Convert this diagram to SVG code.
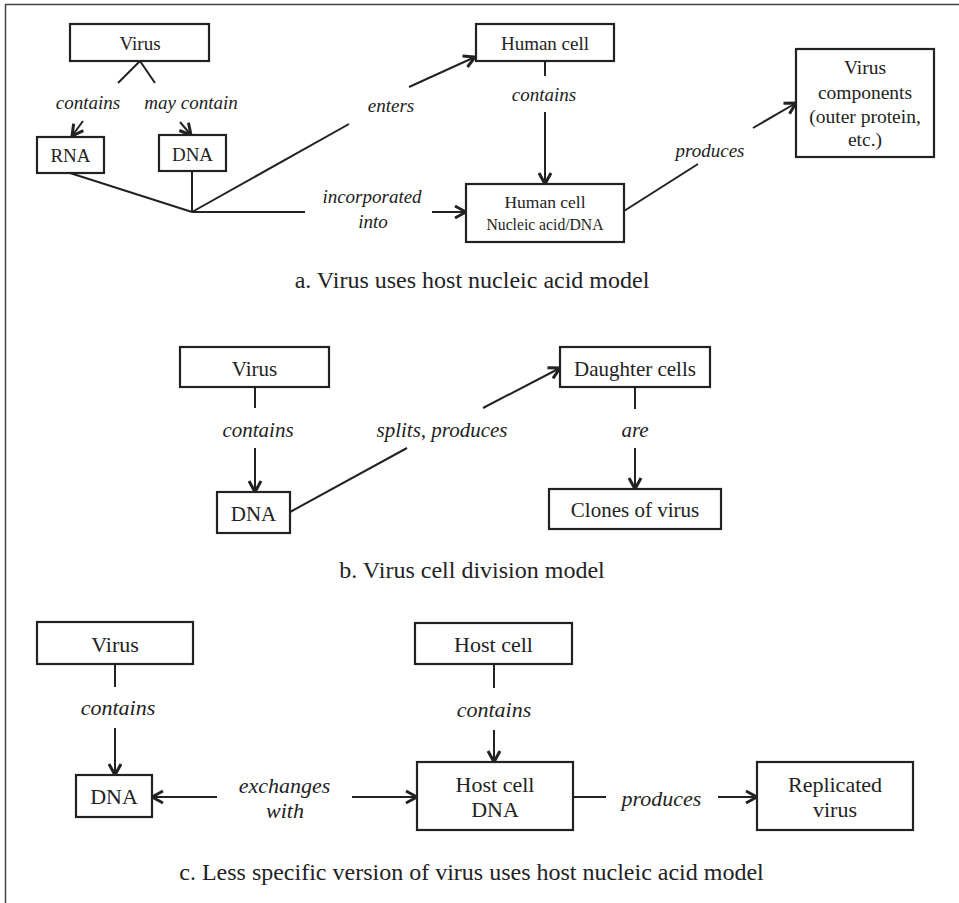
<svg xmlns="http://www.w3.org/2000/svg" width="959" height="903" viewBox="0 0 959 903">
<defs>
<marker id="arr" viewBox="0 0 16 16" refX="14" refY="8" markerWidth="16" markerHeight="16" markerUnits="userSpaceOnUse" orient="auto">
<path d="M3,2 L14,8 L3,14" fill="none" stroke="#222" stroke-width="3" stroke-linejoin="miter"/>
</marker>
<style>
.box{fill:#fff;stroke:#222;stroke-width:2.2}
.t{font-family:"Liberation Serif","Times New Roman",serif;fill:#222;text-anchor:middle}
.i{font-family:"Liberation Serif","Times New Roman",serif;font-style:italic;fill:#222;text-anchor:middle}
.a{font-size:19px}
.b{font-size:21px}
.c{font-size:22px}
.cap{font-size:24px}
.ln{fill:none;stroke:#222;stroke-width:2}
.ar{fill:none;stroke:#222;stroke-width:2;marker-end:url(#arr)}
</style>
</defs>
<rect width="959" height="903" fill="#fff"/>
<path d="M5.5,903 V4.5 H959" fill="none" stroke="#444" stroke-width="1.5"/>

<g id="connectors">
<!-- section a -->
<path class="ln" d="M140,61 L118,83 M140,61 L155,83"/>
<path class="ar" d="M83,121 L72,136"/>
<path class="ar" d="M180,122 L191,135"/>
<path class="ln" d="M70,173 L192,212 M192,171 L192,212 M192,212 L349,124 M192,212 L305,212"/>
<path class="ar" d="M409,87 L475,57"/>
<path class="ar" d="M432,212 L466,212"/>
<path class="ln" d="M545,61 L545,76"/>
<path class="ar" d="M545,112 L545,184"/>
<path class="ln" d="M624,211 L698,164"/>
<path class="ar" d="M753,128 L796,103"/>
<!-- section b -->
<path class="ln" d="M255,387 L255,408"/>
<path class="ar" d="M255,448 L255,492"/>
<path class="ln" d="M290,512 L407,448"/>
<path class="ar" d="M483,408 L560,368"/>
<path class="ln" d="M635,387 L635,409"/>
<path class="ar" d="M635,448 L635,489"/>
<!-- section c -->
<path class="ln" d="M115,664 L115,687"/>
<path class="ar" d="M115,728 L115,775"/>
<path class="ln" d="M494,664 L494,688"/>
<path class="ar" d="M494,730 L494,762"/>
<path class="ar" d="M217,797 L152,797"/>
<path class="ar" d="M352,797 L417,797"/>
<path class="ln" d="M573,797 L606,797"/>
<path class="ar" d="M718,797 L757,797"/>
</g>

<g id="labels">
<text class="i a" x="88" y="109">contains</text>
<text class="i a" x="191" y="109">may contain</text>
<text class="i a" x="391" y="112">enters</text>
<text class="i a" x="372" y="203">incorporated</text>
<text class="i a" x="373" y="228">into</text>
<text class="i a" x="544" y="101">contains</text>
<text class="i a" x="710" y="157">produces</text>
<text class="i b" x="258" y="437">contains</text>
<text class="i b" x="442" y="437">splits, produces</text>
<text class="i b" x="635" y="437">are</text>
<text class="i c" x="118" y="715">contains</text>
<text class="i c" x="284.5" y="793">exchanges</text>
<text class="i c" x="285" y="818">with</text>
<text class="i c" x="494" y="717">contains</text>
<text class="i c" x="661.5" y="806">produces</text>
</g>

<g id="a-virus"><rect class="box" x="70" y="24" width="139" height="37"/><text class="t a" x="140" y="49.5">Virus</text></g>
<g id="a-rna"><rect class="box" x="37" y="137" width="67" height="36"/><text class="t a" x="70.5" y="162">RNA</text></g>
<g id="a-dna"><rect class="box" x="159" y="135" width="67" height="36"/><text class="t a" x="192.5" y="160.5">DNA</text></g>
<g id="a-human-cell"><rect class="box" x="476" y="24" width="138" height="37"/><text class="t a" x="545" y="49.5">Human cell</text></g>
<g id="a-human-dna"><rect class="box" x="466" y="184" width="158" height="58"/><text class="t" style="font-size:17.5px" x="545" y="208">Human cell</text><text class="t" style="font-size:17.5px" x="545" y="230" textLength="117" lengthAdjust="spacingAndGlyphs">Nucleic acid/DNA</text></g>
<g id="a-components"><rect class="box" x="796" y="49" width="138" height="108"/><text class="t" style="font-size:19.5px" x="865" y="74">Virus</text><text class="t" style="font-size:19.5px" x="865" y="99">components</text><text class="t" style="font-size:19.5px" x="865" y="123">(outer protein,</text><text class="t" style="font-size:19.5px" x="865" y="146">etc.)</text></g>
<g id="cap-a"><text class="t cap" x="472" y="288">a. Virus uses host nucleic acid model</text></g>

<g id="b-virus"><rect class="box" x="180" y="347" width="149" height="40"/><text class="t b" x="254.5" y="376">Virus</text></g>
<g id="b-dna"><rect class="box" x="217" y="492" width="73" height="41"/><text class="t b" x="253.5" y="521">DNA</text></g>
<g id="b-daughter"><rect class="box" x="560" y="347" width="150" height="40"/><text class="t b" x="635" y="376">Daughter cells</text></g>
<g id="b-clones"><rect class="box" x="549" y="489" width="172" height="40"/><text class="t b" x="635" y="517">Clones of virus</text></g>
<g id="cap-b"><text class="t cap" x="472" y="578">b. Virus cell division model</text></g>

<g id="c-virus"><rect class="box" x="37" y="622" width="156" height="42"/><text class="t c" x="115" y="652">Virus</text></g>
<g id="c-dna"><rect class="box" x="76" y="775" width="76" height="42"/><text class="t c" x="114" y="804">DNA</text></g>
<g id="c-host"><rect class="box" x="415" y="623" width="157" height="41"/><text class="t c" x="493.5" y="652">Host cell</text></g>
<g id="c-host-dna"><rect class="box" x="417" y="762" width="156" height="68"/><text class="t c" x="495" y="792">Host cell</text><text class="t c" x="495" y="817">DNA</text></g>
<g id="c-replicated"><rect class="box" x="757" y="762" width="156" height="68"/><text class="t c" x="835" y="792">Replicated</text><text class="t c" x="835" y="817">virus</text></g>
<g id="cap-c"><text class="t cap" x="471.5" y="880">c. Less specific version of virus uses host nucleic acid model</text></g>
</svg>
